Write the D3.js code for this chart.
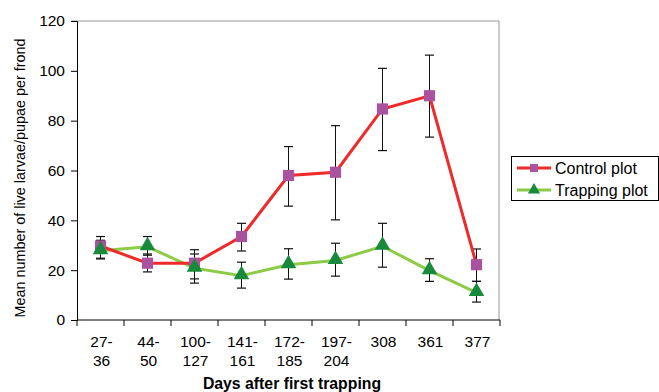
<!DOCTYPE html>
<html>
<head>
<meta charset="utf-8">
<script src="https://cdn.jsdelivr.net/npm/d3@7"></script>
<style>
  html, body { margin: 0; padding: 0; background: #fff; }
  svg { display: block; font-family: "Liberation Sans", Arial, sans-serif; }
</style>
</head>
<body>
<svg id="chart" width="659" height="392"></svg>
<script>
const categories = [["27-", "36"], ["44-", "50"], ["100-", "127"], ["141-", "161"], ["172-", "185"], ["197-", "204"], ["308"], ["361"], ["377"]];
const controlMean = [29.7, 22.8, 22.8, 33.5, 58, 59.3, 84.7, 90, 22.2];
const controlLow  = [24.5, 19.3, 16.5, 27.7, 45.7, 40.2, 68, 73.4, 15.5];
const controlHigh = [33.5, 26.5, 28.2, 38.8, 69.6, 78, 101, 106.3, 28.5];
const trapMean = [27.8, 29.4, 20.8, 17.8, 22.2, 23.9, 29.6, 19.8, 11];
const trapLow  = [24.8, 26, 14.8, 12.8, 16.4, 17.6, 21.2, 15.5, 7.2];
const trapHigh = [32, 33.5, 26.5, 23.2, 28.6, 30.8, 38.8, 24.6, 15.5];
const yTicks = [0, 20, 40, 60, 80, 100, 120];
const seriesNames = ["Control plot", "Trapping plot"];

const svg = d3.select("#chart");
const mLeft = 77, mRight = 500, mTop = 21, mBottom = 320;

const x = d3.scaleBand().domain(d3.range(categories.length)).range([mLeft, mRight]).padding(0);
const y = d3.scaleLinear().domain([0, 120]).range([mBottom, mTop]);

// frame top & right (gray)
svg.append("line").attr("x1", mLeft - 6).attr("x2", mRight - 1).attr("y1", y(120)).attr("y2", y(120))
  .attr("stroke", "#999").attr("stroke-width", 1);
svg.append("line").attr("x1", mRight - 1).attr("x2", mRight - 1).attr("y1", y(120)).attr("y2", mBottom)
  .attr("stroke", "#999").attr("stroke-width", 1);

// y axis
const yAxis = svg.append("g").attr("transform", `translate(${mLeft},0)`)
  .call(d3.axisLeft(y).tickValues(yTicks).tickSize(6).tickPadding(6));
yAxis.select(".domain").attr("stroke", "#000");
yAxis.selectAll(".tick line").attr("stroke", "#000");
yAxis.selectAll("text").attr("font-size", 15.5).attr("fill", "#000").attr("font-family", "Liberation Sans, Arial, sans-serif");

// x axis
const boundaries = d3.range(categories.length + 1).map(i => mLeft + i * x.bandwidth());
const xg = svg.append("g");
xg.append("line").attr("x1", mLeft).attr("x2", mRight).attr("y1", mBottom).attr("y2", mBottom).attr("stroke", "#000");
xg.selectAll("line.tk").data(boundaries).enter().append("line").attr("class", "tk")
  .attr("x1", d => d).attr("x2", d => d).attr("y1", mBottom).attr("y2", mBottom + 6).attr("stroke", "#000");
categories.forEach((lines, i) => {
  const t = xg.append("text").attr("text-anchor", "middle").attr("font-size", 15.5).attr("fill", "#000")
    .attr("x", x(i) + x.bandwidth() / 2 + 1).attr("y", 347);
  lines.forEach((s, j) => t.append("tspan").attr("x", x(i) + x.bandwidth() / 2 + 1).attr("dy", j === 0 ? 0 : 19).text(s));
});

// axis titles
svg.append("text").attr("x", 292).attr("y", 389).attr("text-anchor", "middle")
  .attr("font-size", 15.8).attr("font-weight", "bold").text("Days after first trapping");
svg.append("text").attr("transform", `translate(25,${178}) rotate(-90)`)
  .attr("text-anchor", "middle").attr("font-size", 14.4).text("Mean number of live larvae/pupae per frond");

const cx = i => x(i) + x.bandwidth() / 2;

function errorBars(mean, low, high) {
  const g = svg.append("g");
  mean.forEach((m, i) => {
    g.append("line").attr("x1", cx(i)).attr("x2", cx(i)).attr("y1", y(low[i])).attr("y2", y(high[i])).attr("stroke", "#111").attr("stroke-width", 1);
    [low[i], high[i]].forEach(v => g.append("line").attr("x1", cx(i) - 4.5).attr("x2", cx(i) + 4.5)
      .attr("y1", y(v)).attr("y2", y(v)).attr("stroke", "#111").attr("stroke-width", 1.2));
  });
}

const line = d3.line().x((d, i) => cx(i)).y(d => y(d));

errorBars(controlMean, controlLow, controlHigh);
errorBars(trapMean, trapLow, trapHigh);

svg.append("path").datum(trapMean).attr("d", line).attr("fill", "none").attr("stroke", "#8dca45").attr("stroke-width", 3);
svg.append("path").datum(controlMean).attr("d", line).attr("fill", "none").attr("stroke", "#ee2a2a").attr("stroke-width", 3);

const sq = d3.symbol().type(d3.symbolSquare).size(125);
const tri = d3.symbol().type(d3.symbolTriangle).size(105);
svg.append("g").selectAll("path").data(controlMean).enter().append("path")
  .attr("d", sq).attr("transform", (d, i) => `translate(${cx(i)},${y(d)})`).attr("fill", "#a9529f");
svg.append("g").selectAll("path").data(trapMean).enter().append("path")
  .attr("d", tri).attr("transform", (d, i) => `translate(${cx(i)},${y(d) - 1})`).attr("fill", "#178a3c");

// legend
const lg = svg.append("g");
lg.append("rect").attr("x", 511.5).attr("y", 156.5).attr("width", 147).attr("height", 44)
  .attr("fill", "#fff").attr("stroke", "#000").attr("stroke-width", 1);
const legendRows = [
  { name: seriesNames[0], color: "#ee2a2a", type: d3.symbolSquare, mfill: "#a9529f", yy: 168 },
  { name: seriesNames[1], color: "#8dca45", type: d3.symbolTriangle, mfill: "#178a3c", yy: 190 }
];
legendRows.forEach(r => {
  lg.append("line").attr("x1", 517).attr("x2", 551).attr("y1", r.yy).attr("y2", r.yy).attr("stroke", r.color).attr("stroke-width", 3);
  lg.append("path").attr("d", d3.symbol().type(r.type).size(64)())
    .attr("transform", `translate(534,${r.yy})`).attr("fill", r.mfill);
  lg.append("text").attr("x", 555).attr("y", r.yy + 5.5).attr("font-size", 16).text(r.name);
});
</script>
</body>
</html>
